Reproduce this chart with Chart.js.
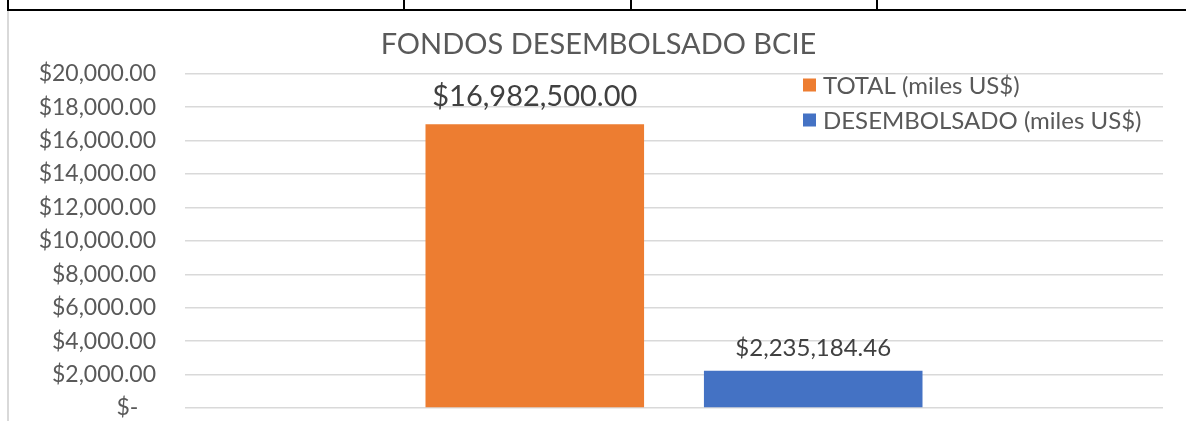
<!DOCTYPE html>
<html>
<head>
<meta charset="utf-8">
<script src="https://cdn.jsdelivr.net/npm/chart.js@4"></script>
<style>
  html, body { margin: 0; padding: 0; background: #fff; }
  body { width: 1186px; height: 421px; position: relative; overflow: hidden; }
  #wrap { position: absolute; left: 0; top: 0; width: 1186px; height: 421px; }
  canvas { display: block; }
  .ln { position: absolute; background: #000; }
  .gray { position: absolute; background: #d9d9d9; }
</style>
</head>
<body>
<div id="wrap"><canvas id="c" width="1186" height="421"></canvas></div>
<div class="ln" style="left:7px;top:9px;width:1179px;height:2px;"></div>
<div class="ln" style="left:7px;top:0;width:2px;height:11px;"></div>
<div class="ln" style="left:403px;top:0;width:2px;height:11px;"></div>
<div class="ln" style="left:630px;top:0;width:2px;height:11px;"></div>
<div class="ln" style="left:876px;top:0;width:2px;height:11px;"></div>
<div class="gray" style="left:7px;top:11px;width:2px;height:410px;"></div>
<script>
// ---- data ----
const categories = [''];
const seriesNames = ['TOTAL (miles US$)', 'DESEMBOLSADO (miles US$)'];
const totalValues = [16982.5];
const desembolsadoValues = [2235.18446];
const dataLabels = ['$16,982,500.00', '$2,235,184.46'];
const chartTitle = 'FONDOS DESEMBOLSADO BCIE';

// ---- styles ----
const seriesColors = ['#ED7D31', '#4472C4'];
const labelFontSizes = [29, 24];
const labelGaps = [18, 15];
const FONT = 'Lato, "Open Sans", sans-serif';

const dataLabelPlugin = {
  id: 'dataLabels',
  afterDatasetsDraw(chart) {
    const ctx = chart.ctx;
    ctx.save();
    ctx.fillStyle = '#404040';
    ctx.textAlign = 'center';
    ctx.textBaseline = 'alphabetic';
    chart.data.datasets.forEach((ds, i) => {
      const el = chart.getDatasetMeta(i).data[0];
      ctx.font = labelFontSizes[i] + 'px ' + FONT;
      ctx.fillText(dataLabels[i], el.x, el.y - labelGaps[i]);
    });
    ctx.restore();
  }
};

const legendPlugin = {
  id: 'insideLegend',
  afterDraw(chart) {
    const ctx = chart.ctx;
    ctx.save();
    ctx.font = '24px ' + FONT;
    ctx.textBaseline = 'middle';
    ctx.textAlign = 'left';
    const x0 = 803, y0 = 85, step = 35;
    chart.data.datasets.forEach((ds, i) => {
      const y = y0 + i * step;
      ctx.fillStyle = ds.backgroundColor;
      ctx.fillRect(x0, y - 6.5, 13, 13);
      ctx.fillStyle = '#595959';
      ctx.fillText(ds.label, x0 + 20, y + 1);
    });
    ctx.restore();
  }
};

new Chart(document.getElementById('c'), {
  type: 'bar',
  data: {
    labels: categories,
    datasets: [
      { label: seriesNames[0], data: totalValues, backgroundColor: seriesColors[0] },
      { label: seriesNames[1], data: desembolsadoValues, backgroundColor: seriesColors[1] }
    ]
  },
  options: {
    responsive: false,
    animation: false,
    devicePixelRatio: 1,
    layout: { padding: { left: 34, right: 23, top: 20, bottom: 13 } },
    datasets: { bar: { categoryPercentage: 0.5694, barPercentage: 0.785 } },
    plugins: {
      legend: { display: false },
      tooltip: { enabled: false },
      title: {
        display: true,
        text: chartTitle,
        color: '#595959',
        font: { family: FONT, size: 29, weight: 'normal' },
        padding: { top: 7, bottom: 12 }
      }
    },
    scales: {
      x: { display: false },
      y: {
        min: 0, max: 20000,
        afterFit(s) { s.width = 151; s.paddingTop = 0; s.paddingBottom = 0; },
        border: { display: false },
        grid: { color: '#d9d9d9', lineWidth: 1.5, drawTicks: false },
        ticks: {
          stepSize: 2000,
          padding: 29,
          color: '#595959',
          font: { family: FONT, size: 23 },
          callback: (v) => v === 0 ? '$-   ' : '$' + Number(v).toLocaleString('en-US', { minimumFractionDigits: 2, maximumFractionDigits: 2 })
        }
      }
    }
  },
  plugins: [dataLabelPlugin, legendPlugin]
});
</script>
</body>
</html>
